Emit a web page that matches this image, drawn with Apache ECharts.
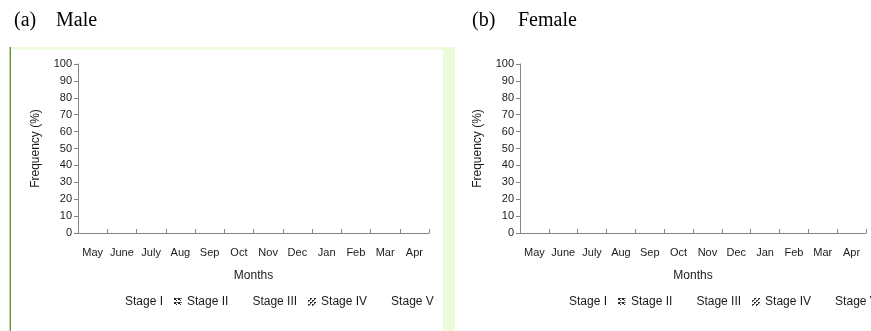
<!DOCTYPE html>
<html>
<head>
<meta charset="utf-8">
<script src="https://cdn.jsdelivr.net/npm/echarts@6/dist/echarts.min.js"></script>
<style>html,body{margin:0;padding:0;background:#fff}#c{width:871px;height:331px}</style>
</head>
<body>
<div id="c"></div>
<script>
// ---- data ----
var months = ['May','June','July','Aug','Sep','Oct','Nov','Dec','Jan','Feb','Mar','Apr'];
var stages = ['Stage I','Stage II','Stage III','Stage IV','Stage V'];
var yTicks = [0,10,20,30,40,50,60,70,80,90,100];
// no bars are visible in either panel
var maleStageI = [], maleStageII = [], maleStageIII = [], maleStageIV = [], maleStageV = [];
var femaleStageI = [], femaleStageII = [], femaleStageIII = [], femaleStageIV = [], femaleStageV = [];
var maleSeries = [maleStageI, maleStageII, maleStageIII, maleStageIV, maleStageV];
var femaleSeries = [femaleStageI, femaleStageII, femaleStageIII, femaleStageIV, femaleStageV];

// ---- styling helpers ----
function pattern(kind){
  var cv = document.createElement('canvas'); cv.width = 4; cv.height = 4;
  var g = cv.getContext('2d');
  g.fillStyle = '#fff'; g.fillRect(0,0,4,4);
  g.fillStyle = '#222';
  if (kind === 'grid') { g.fillRect(0,0,2,2); g.fillRect(2,2,1,1); g.fillStyle='#777'; g.fillRect(2,0,2,1);} 
  else { g.fillRect(0,3,1,1); g.fillRect(1,2,1,1); g.fillRect(2,1,1,1); g.fillRect(3,0,1,1); g.fillRect(0,2,1,1);g.fillRect(2,0,1,1);}
  return {image: cv, repeat: 'repeat'};
}
var stageColors = ['#ffffff', pattern('grid'), '#ffffff', pattern('diag'), '#ffffff'];
var hidden = {0:true, 2:true, 4:true};

var font = 'Liberation Sans';
var axisColor = '#868686';
var textColor = '#1a1a1a';

function legendData(){
  return stages.map(function(s,i){
    return hidden[i] ? {name:s, itemStyle:{opacity:0}} : {name:s};
  });
}

function makeX(gi){
  return {
    type:'category', gridIndex:gi, data:months, boundaryGap:true,
    name:'Months', nameLocation:'middle', nameGap:37,
    nameTextStyle:{fontFamily:font, fontSize:12, color:textColor},
    axisLine:{lineStyle:{color:axisColor, width:1}},
    axisTick:{show:true, inside:true, length:4, alignWithLabel:false, lineStyle:{color:axisColor}},
    axisLabel:{fontFamily:font, fontSize:11, color:textColor, interval:0, margin:14}
  };
}
function makeY(gi){
  return {
    type:'value', gridIndex:gi, min:0, max:100, interval:10,
    name:'Frequency (%)', nameLocation:'middle', nameGap:36, nameRotate:90,
    nameTextStyle:{fontFamily:font, fontSize:12, color:textColor},
    axisLine:{show:true, lineStyle:{color:axisColor, width:1}},
    axisTick:{show:true, inside:false, length:4, lineStyle:{color:axisColor}},
    splitLine:{show:false},
    axisLabel:{fontFamily:font, fontSize:11, color:textColor, margin:6,
      formatter:function(v){ return yTicks.indexOf(v) >= 0 ? String(v) : ''; }}
  };
}

var series = [];
stages.forEach(function(s,i){
  series.push({name:s, type:'bar', xAxisIndex:0, yAxisIndex:0, data:maleSeries[i], itemStyle:{color:stageColors[i]}});
  series.push({name:s, type:'bar', xAxisIndex:1, yAxisIndex:1, data:femaleSeries[i], itemStyle:{color:stageColors[i]}});
});

var legendCommon = {
  orient:'horizontal', top:291, width:420, itemWidth:8, itemHeight:8, itemGap:11,
  selectedMode:false, icon:'rect',
  textStyle:{fontFamily:font, fontSize:12, color:textColor}, data:legendData()
};

var chart = echarts.init(document.getElementById('c'), null, {renderer:'canvas'});
var titleStyle = {fontFamily:'Liberation Serif', fontSize:20, fontWeight:'normal', color:'#000'};
chart.setOption({
  animation:false,
  backgroundColor:'#ffffff',
  title:[
    {text:'(a)', left:9, top:6, textStyle:titleStyle},
    {text:'Male', left:51, top:6, textStyle:titleStyle},
    {text:'(b)', left:467, top:6, textStyle:titleStyle},
    {text:'Female', left:513, top:6, textStyle:titleStyle}
  ],
  graphic:[
    {type:'rect', shape:{x:10, y:47, width:445, height:2.5}, style:{fill:'#ecfbd9'}, silent:true, z:-1},
    {type:'rect', shape:{x:443, y:47, width:12, height:284}, style:{fill:'#ecfbd9'}, silent:true, z:-1},
    {type:'rect', shape:{x:9.5, y:47, width:1.5, height:284}, style:{fill:'#6f9b3a'}, silent:true, z:-1}
  ],
  legend:[
    Object.assign({left:107}, legendCommon),
    Object.assign({left:551}, legendCommon)
  ],
  grid:[
    {left:78, top:64, width:351, height:169, containLabel:false},
    {left:520, top:64, width:346, height:169, containLabel:false}
  ],
  xAxis:[makeX(0), makeX(1)],
  yAxis:[makeY(0), makeY(1)],
  series:series
});
</script>
</body>
</html>
